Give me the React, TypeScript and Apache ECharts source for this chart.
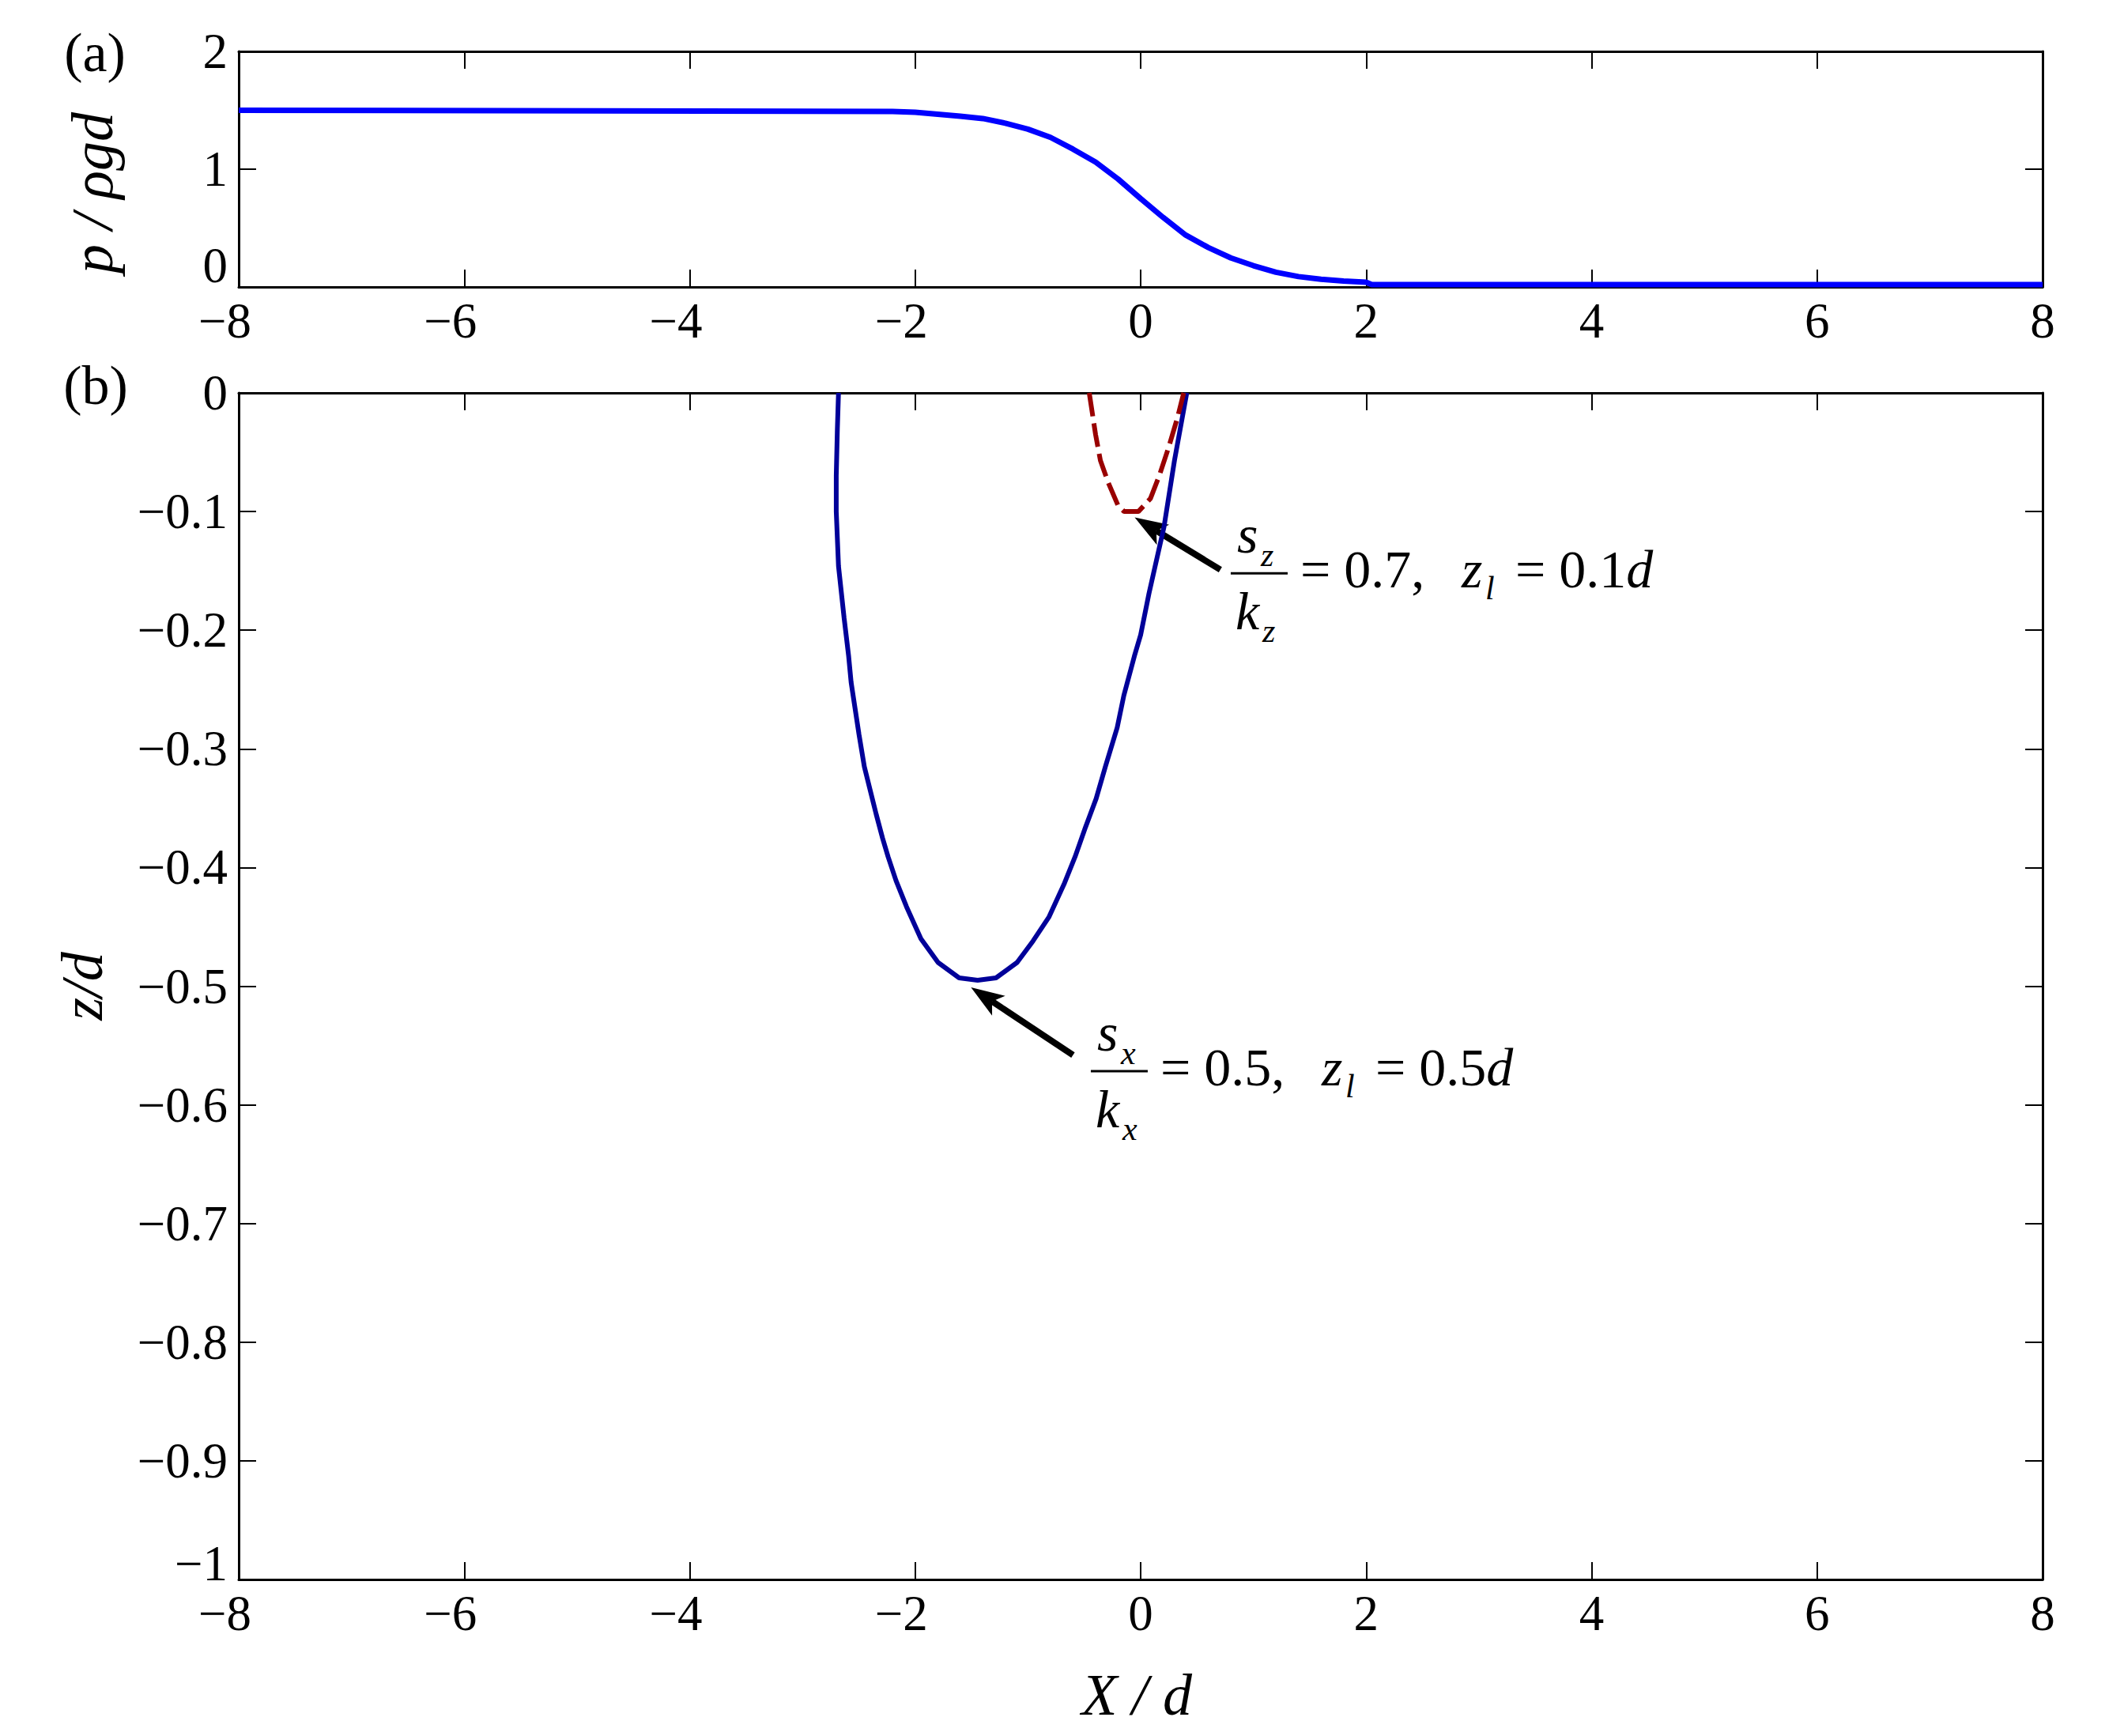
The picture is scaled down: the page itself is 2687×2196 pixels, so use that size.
import React, { useEffect, useRef } from "react";
import * as echarts from "echarts";

// ---------- data ----------
const xTicks = [-8, -6, -4, -2, 0, 2, 4, 6, 8];
const pressureX = [-8, -2.2, -2.0, -1.8, -1.6, -1.4, -1.2, -1.0, -0.8, -0.6, -0.4, -0.2, 0, 0.2, 0.4, 0.6, 0.8, 1.0, 1.2, 1.4, 1.6, 1.8, 2.0, 2.05, 8];
const pressureP = [1.5, 1.49, 1.483, 1.467, 1.45, 1.43, 1.39, 1.34, 1.27, 1.17, 1.06, 0.916, 0.75, 0.59, 0.44, 0.335, 0.247, 0.181, 0.125, 0.088, 0.065, 0.05, 0.04, 0.02, 0.02];

const boundXa = [-2.68, -2.69, -2.70, -2.70, -2.68, -2.63, -2.59, -2.568, -2.533, -2.498, -2.451, -2.404, -2.346, -2.29, -2.24, -2.17, -2.077, -1.949, -1.797, -1.61, -1.446, -1.283, -1.096, -0.955, -0.815, -0.675, -0.582, -0.489, -0.395, -0.313, -0.208, -0.149, -0.056, 0, 0.074, 0.207, 0.30, 0.409];
const boundZa = [0, -0.03, -0.07, -0.10, -0.146, -0.19, -0.222, -0.244, -0.266, -0.288, -0.315, -0.333, -0.355, -0.375, -0.391, -0.411, -0.433, -0.46, -0.48, -0.493, -0.495, -0.493, -0.48, -0.462, -0.442, -0.413, -0.391, -0.366, -0.342, -0.315, -0.282, -0.255, -0.222, -0.204, -0.169, -0.113, -0.057, 0];

const boundXb = [-0.456, -0.40, -0.357, -0.29, -0.2, -0.147, -0.02, 0.087, 0.168, 0.248, 0.329, 0.382];
const boundZb = [0, -0.035, -0.057, -0.075, -0.095, -0.1, -0.1, -0.089, -0.069, -0.046, -0.02, 0];

// annotations (data coords of panel b)
const arrow1 = { tail: [0.707, -0.149], tip: [-0.053, -0.105] };
const arrow2 = { tail: [-0.6, -0.558], tip: [-1.505, -0.501] };
const note1 = { at: [0.799, -0.152], sub: "z", ratio: "0.7", zl: "0.1" };
const note2 = { at: [-0.442, -0.5716], sub: "x", ratio: "0.5", zl: "0.5" };

// ---------- style ----------
const FONT = "Liberation Serif";
const TICK_FS = 63;
const TICK_LH = 40;
const NAME_FS = 74;
const ANN_FS = 68;
const SUB_FS = 42;

const minus = (v: number, digits: number) => {
  const r = +v.toFixed(digits);
  if (r === 0) return "0";
  return r < 0 ? "\u2212" + String(Math.abs(r)) : String(r);
};

function xAxisDef(grid: number, pos: "bottom" | "top", showLabel: boolean) {
  return {
    type: "value",
    gridIndex: grid,
    position: pos,
    min: -8,
    max: 8,
    interval: 2,
    axisLine: { show: true, onZero: false, lineStyle: { color: "#000", width: 3 } },
    axisTick: { show: true, inside: true, length: 22, lineStyle: { color: "#000", width: 2 } },
    splitLine: { show: false },
    axisLabel: {
      show: showLabel,
      margin: 23,
      color: "#000",
      fontFamily: FONT,
      fontSize: TICK_FS,
      lineHeight: TICK_LH,
      formatter: (v: number) => (v < 0 ? `{n|${minus(v, 0)}}` : `{p|${v}}`),
      rich: {
        n: { fontFamily: FONT, fontSize: TICK_FS, lineHeight: TICK_LH, color: "#000", padding: [0, 35, 0, 0] },
        p: { fontFamily: FONT, fontSize: TICK_FS, lineHeight: TICK_LH, color: "#000" },
      },
    },
  };
}

function yAxisDef(grid: number, pos: "left" | "right", showLabel: boolean, min: number, max: number, interval: number, digits: number, lift = 0, name?: string, nameGap?: number, namePad?: number[]) {
  return {
    type: "value",
    gridIndex: grid,
    position: pos,
    min,
    max,
    interval,
    name: name || "",
    nameLocation: "middle",
    nameRotate: 90,
    nameGap: nameGap || 0,
    nameTextStyle: {
      fontFamily: FONT,
      fontSize: NAME_FS,
      fontStyle: "italic",
      color: "#000",
      lineHeight: NAME_FS,
      padding: namePad || [0, 0, 0, 0],
    },
    axisLine: { show: true, onZero: false, lineStyle: { color: "#000", width: 3 } },
    axisTick: { show: true, inside: true, length: 22, lineStyle: { color: "#000", width: 2 } },
    splitLine: { show: false },
    axisLabel: {
      show: showLabel,
      margin: 14,
      color: "#000",
      fontFamily: FONT,
      fontSize: TICK_FS,
      lineHeight: TICK_LH,
      // the lowest label is lifted a little so it clears the first x label
      formatter: (v: number) => (Math.abs(v - min) < 1e-9 ? `{lo|${minus(v, digits)}}` : minus(v, digits)),
      rich: {
        lo: { fontFamily: FONT, fontSize: TICK_FS, lineHeight: TICK_LH, color: "#000", padding: [0, 0, 2 * lift, 0] },
      },
    },
  };
}

function txt(x: number, baseline: number, text: string, fs: number, italic: boolean, align = "left") {
  return {
    type: "text",
    x,
    y: baseline - 0.34 * fs,
    silent: true,
    style: {
      text,
      fontFamily: FONT,
      fontSize: fs,
      fontStyle: italic ? "italic" : "normal",
      fill: "#000",
      textAlign: align,
      textVerticalAlign: "middle",
    },
  };
}

function note(px: number, py: number, sub: string, ratio: string, zl: string) {
  return [
    { type: "rect", silent: true, shape: { x: px, y: py - 1.5, width: 72, height: 3 }, style: { fill: "#000" } },
    txt(px + 8, py - 26, "s", ANN_FS, true),
    txt(px + 38, py - 9, sub, SUB_FS, true),
    txt(px + 6, py + 71, "k", ANN_FS, true),
    txt(px + 40, py + 87, sub, SUB_FS, true),
    txt(px + 88, py + 18, "= " + ratio + ",", ANN_FS, false),
    txt(px + 292, py + 18, "z", ANN_FS, true),
    txt(px + 322, py + 33, "l", SUB_FS, true),
    {
      type: "text",
      x: px + 360,
      y: py + 18 - 0.34 * ANN_FS,
      silent: true,
      style: {
        text: "= " + zl + "{i|d}",
        fontFamily: FONT,
        fontSize: ANN_FS,
        fill: "#000",
        textAlign: "left",
        textVerticalAlign: "middle",
        rich: { i: { fontFamily: FONT, fontSize: ANN_FS, fontStyle: "italic", fill: "#000" } },
      },
    },
  ];
}

function arrow(t: number[], h: number[]) {
  const dx = h[0] - t[0];
  const dy = h[1] - t[1];
  const len = Math.hypot(dx, dy);
  const ux = dx / len, uy = dy / len;
  const nx = -uy, ny = ux;
  const L = 42, W = 15, notch = 10;
  const bx = h[0] - L * ux, by = h[1] - L * uy;
  const mx = h[0] - (L - notch) * ux, my = h[1] - (L - notch) * uy;
  return [
    { type: "line", silent: true, shape: { x1: t[0], y1: t[1], x2: mx, y2: my }, style: { stroke: "#000", lineWidth: 8 } },
    {
      type: "polygon",
      silent: true,
      shape: { points: [[h[0], h[1]], [bx + W * nx, by + W * ny], [mx, my], [bx - W * nx, by - W * ny]] },
      style: { fill: "#000" },
    },
  ];
}

export default function App() {
  const ref = useRef<HTMLDivElement>(null);
  useEffect(() => {
    if (!ref.current) return;
    const chart = echarts.init(ref.current, undefined, { renderer: "svg" });
    chart.setOption({
      animation: false,
      backgroundColor: "#fff",
      grid: [
        { left: 302, top: 65, width: 2282, height: 298 },
        { left: 302, top: 497, width: 2282, height: 1501 },
      ],
      xAxis: [xAxisDef(0, "bottom", true), xAxisDef(0, "top", false), xAxisDef(1, "bottom", true), xAxisDef(1, "top", false)],
      yAxis: [
        yAxisDef(0, "left", true, 0, 2, 1, 0, 27, "p / \u03C1gd", 148, [0, 60, 0, 0]),
        yAxisDef(0, "right", false, 0, 2, 1, 0),
        yAxisDef(1, "left", true, -1, 0, 0.1, 1, 20, "z/d", 161),
        yAxisDef(1, "right", false, -1, 0, 0.1, 1),
      ],
      series: [
        {
          type: "line",
          xAxisIndex: 0,
          yAxisIndex: 0,
          data: pressureX.map((x, i) => [x, pressureP[i]]),
          showSymbol: false,
          symbol: "none",
          lineStyle: { color: "#0000FF", width: 7 },
          silent: true,
        },
        {
          type: "line",
          xAxisIndex: 2,
          yAxisIndex: 2,
          data: boundXa.map((x, i) => [x, boundZa[i]]),
          showSymbol: false,
          symbol: "none",
          lineStyle: { color: "#000099", width: 6 },
          silent: true,
        },
        {
          type: "line",
          xAxisIndex: 2,
          yAxisIndex: 2,
          data: boundXb.map((x, i) => [x, boundZb[i]]),
          showSymbol: false,
          symbol: "none",
          lineStyle: { color: "#990000", width: 6, type: [30, 9] },
          silent: true,
        },
      ],
    });

    const px = (p: number[]) => chart.convertToPixel({ gridIndex: 1 }, p) as number[];
    const n1 = px(note1.at);
    const n2 = px(note2.at);
    const elements: any[] = [
      ...arrow(px(arrow1.tail), px(arrow1.tip)),
      ...arrow(px(arrow2.tail), px(arrow2.tip)),
      ...note(n1[0], n1[1], note1.sub, note1.ratio, note1.zl),
      ...note(n2[0], n2[1], note2.sub, note2.ratio, note2.zl),
      {
        type: "text", x: 1438, y: 2169 - 0.34 * NAME_FS, silent: true,
        style: { text: "X / d", fontFamily: FONT, fontSize: NAME_FS, fontStyle: "italic", fill: "#000", textAlign: "center", textVerticalAlign: "middle" },
      },
      // panel labels
      {
        type: "text", x: 120, y: 66, silent: true,
        style: { text: "(a)", fontFamily: FONT, fontSize: 70, fill: "#000", textAlign: "center", textVerticalAlign: "middle" },
      },
      {
        type: "text", x: 121, y: 487, silent: true,
        style: { text: "(b)", fontFamily: FONT, fontSize: 70, fill: "#000", textAlign: "center", textVerticalAlign: "middle" },
      },
    ];
    chart.setOption({ graphic: { elements } });
    return () => chart.dispose();
  }, []);
  return (
    <div
      ref={ref}
      style={{ position: "fixed", left: 0, top: 0, width: 2687, height: 2196, background: "#fff" }}
    />
  );
}
